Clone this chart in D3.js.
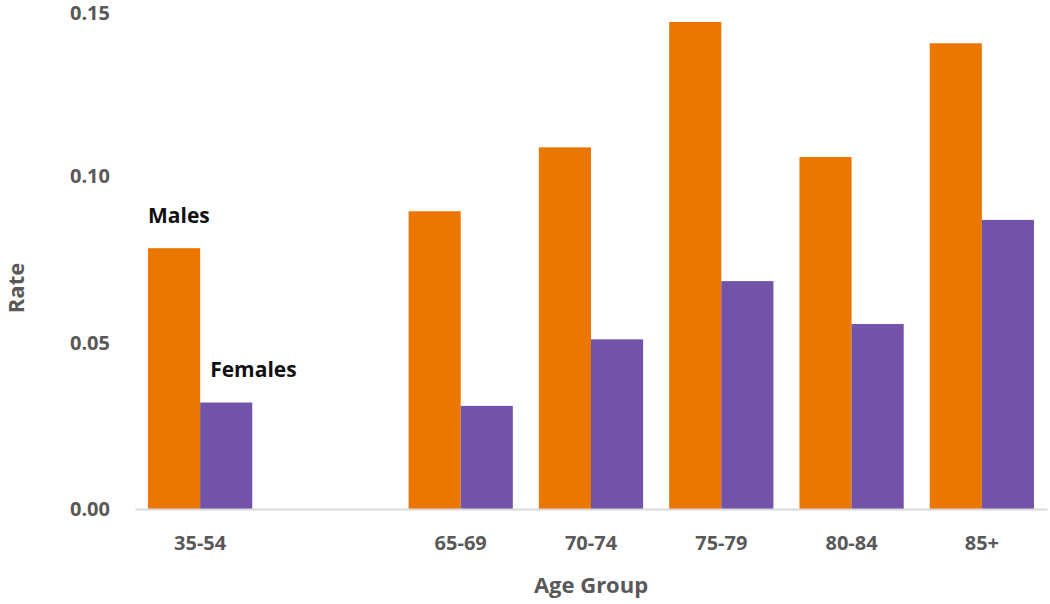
<!DOCTYPE html>
<html>
<head>
<meta charset="utf-8">
<script src="https://cdn.jsdelivr.net/npm/d3@7"></script>
<style>
  body { margin: 0; background: #fff; }
  svg text { font-family: "Open Sans", "Liberation Sans", sans-serif; font-weight: bold; }
  .axis text { fill: #595959; font-size: 20px; }
  .axis-title { fill: #595959; font-size: 22px; }
  .series-label { fill: #111; font-size: 21px; }
</style>
</head>
<body>
<script>
// age groups (the second slot is empty in the original)
var ageGroups = ["35-54", "", "65-69", "70-74", "75-79", "80-84", "85+"];
var males   = [0.0784, null, 0.0895, 0.1087, 0.1464, 0.1058, 0.1400];
var females = [0.0320, null, 0.0310, 0.0510, 0.0685, 0.0556, 0.0869];
var yTicks = [0, 0.05, 0.10, 0.15];

var width = 1050, height = 604;
var margin = {top: 10, right: 3, bottom: 95, left: 135};

var colors = {Males: "#ec7700", Females: "#7153a9"};

var svg = d3.select("body").append("svg")
    .attr("width", width)
    .attr("height", height);

var x = d3.scaleBand()
    .domain(ageGroups.map(function(d, i) { return i; }))
    .range([margin.left, width - margin.right])
    .paddingInner(0.2)
    .paddingOuter(0.1);

var x1 = d3.scaleBand()
    .domain(["Males", "Females"])
    .range([0, x.bandwidth()]);

var y = d3.scaleLinear()
    .domain([0, 0.15])
    .range([height - margin.bottom, margin.top]);

var rows = ageGroups.map(function(g, i) {
  return {i: i, group: g, Males: males[i], Females: females[i]};
});

// bars
var groups = svg.selectAll(".grp")
  .data(rows)
  .enter().append("g")
    .attr("class", "grp")
    .attr("transform", function(d) { return "translate(" + x(d.i) + ",0)"; });

groups.selectAll("rect")
  .data(function(d) {
    return ["Males", "Females"]
      .filter(function(k) { return d[k] != null; })
      .map(function(k) { return {key: k, value: d[k]}; });
  })
  .enter().append("rect")
    .attr("x", function(d) { return x1(d.key); })
    .attr("y", function(d) { return y(d.value); })
    .attr("width", x1.bandwidth())
    .attr("height", function(d) { return y(0) - y(d.value); })
    .attr("fill", function(d) { return colors[d.key]; });

// x axis
var xAxis = svg.append("g")
    .attr("class", "axis")
    .attr("transform", "translate(0," + y(0) + ")")
    .call(d3.axisBottom(x)
      .tickSize(0)
      .tickPadding(27)
      .tickFormat(function(i) { return ageGroups[i]; }));
xAxis.select(".domain").attr("stroke", "#d9d9d9").attr("stroke-width", 2);

// y axis
var yAxis = svg.append("g")
    .attr("class", "axis")
    .attr("transform", "translate(" + (margin.left - 22) + ",0)")
    .call(d3.axisLeft(y)
      .tickValues(yTicks)
      .tickSize(0)
      .tickFormat(d3.format(".2f")));
yAxis.select(".domain").remove();
// keep the top label inside the picture
yAxis.selectAll(".tick text").filter(function(d) { return d === 0.15; })
    .attr("dy", "0.45em");

// axis titles
svg.append("text")
    .attr("class", "axis-title")
    .attr("text-anchor", "middle")
    .attr("x", 591)
    .attr("y", 593)
    .text("Age Group");

svg.append("text")
    .attr("class", "axis-title")
    .attr("text-anchor", "middle")
    .attr("transform", "translate(24," + 288 + ") rotate(-90)")
    .text("Rate");

// series labels next to first group
svg.append("text")
    .attr("class", "series-label")
    .attr("x", x(0) + x1("Males"))
    .attr("y", y(males[0]) - 25)
    .text("Males");

svg.append("text")
    .attr("class", "series-label")
    .attr("x", x(0) + x1("Females") + 10)
    .attr("y", y(females[0]) - 26)
    .text("Females");
</script>
</body>
</html>
